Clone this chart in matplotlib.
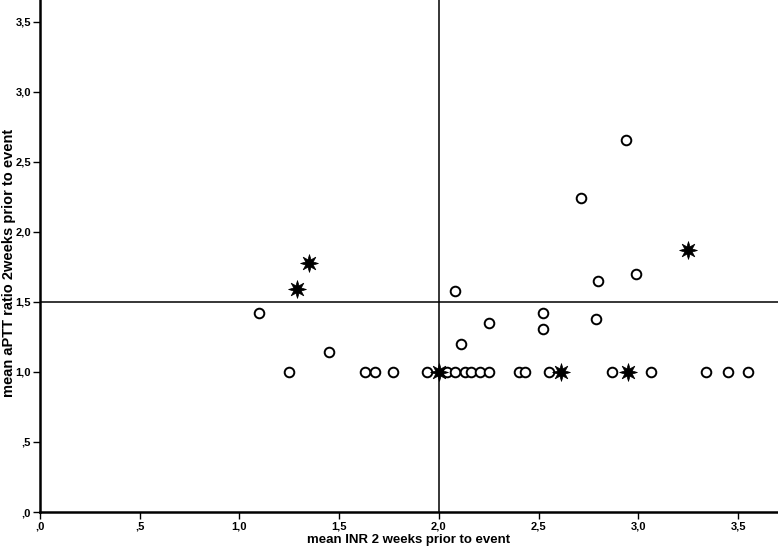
import matplotlib
matplotlib.use("Agg")
import matplotlib.pyplot as plt
from matplotlib.path import Path
from matplotlib.ticker import FuncFormatter, MultipleLocator

# open circles
circle_x = [1.10, 2.08, 2.25, 2.11, 1.45, 2.94, 2.71, 2.99, 2.80, 2.52, 2.52, 2.79,
            1.25, 1.63, 1.68, 1.77, 1.94, 2.04, 2.08, 2.13, 2.16, 2.205, 2.25,
            2.40, 2.43, 2.55, 2.87, 3.065, 3.34, 3.45, 3.55]
circle_y = [1.42, 1.58, 1.35, 1.20, 1.14, 2.66, 2.24, 1.70, 1.65, 1.42, 1.31, 1.38,
            1.0, 1.0, 1.0, 1.0, 1.0, 1.0, 1.0, 1.0, 1.0, 1.0, 1.0,
            1.0, 1.0, 1.0, 1.0, 1.0, 1.0, 1.0, 1.0]

# filled stars
star_x = [1.29, 1.35, 2.00, 2.61, 2.95, 3.25]
star_y = [1.59, 1.78, 1.00, 1.00, 1.00, 1.87]

ref_x = 2.0
ref_y = 1.5

plt.rcParams['font.family'] = ['Liberation Sans', 'DejaVu Sans']

fig = plt.figure(figsize=(7.78, 5.5), dpi=100)
ax = fig.add_axes([40/778, 38/550, 738/778, 512/550])

ax.axvline(ref_x, color='black', lw=1.1, zorder=1)
ax.axhline(ref_y, color='black', lw=1.1, zorder=1)

star8 = Path.unit_regular_star(8, innerCircle=0.45)

ax.scatter(circle_x, circle_y, s=48, facecolors='white', edgecolors='black',
           linewidths=1.4, zorder=3, clip_on=False)
ax.scatter(star_x, star_y, s=165, marker=star8, color='black',
           linewidths=0.5, zorder=4, clip_on=False)

ax.set_xlim(0, 3.70)
ax.set_ylim(0, 3.657)

def fmt(v, pos):
    s = f"{v:.1f}".replace('.', ',')
    if s.startswith('0'):
        s = s[1:]
    return s

ax.xaxis.set_major_locator(MultipleLocator(0.5))
ax.yaxis.set_major_locator(MultipleLocator(0.5))
ax.xaxis.set_major_formatter(FuncFormatter(fmt))
ax.yaxis.set_major_formatter(FuncFormatter(fmt))

for side in ['top', 'right']:
    ax.spines[side].set_visible(False)
for side in ['left', 'bottom']:
    ax.spines[side].set_linewidth(1.8)

ax.tick_params(axis='both', direction='out', length=5, width=1, labelsize=8, pad=1.5)
for lbl in ax.get_xticklabels() + ax.get_yticklabels():
    lbl.set_fontweight('bold')

# axis titles placed in figure pixels
fig.text(409/778, 1 - 540/550, 'mean INR 2 weeks prior to event', fontsize=9.5,
         fontweight='bold', ha='center', va='center')
fig.text(9/778, 1 - 263/550, 'mean aPTT ratio 2weeks prior to event', fontsize=10.5,
         fontweight='bold', ha='center', va='center', rotation=90)

fig.savefig('out.png', dpi=100)
